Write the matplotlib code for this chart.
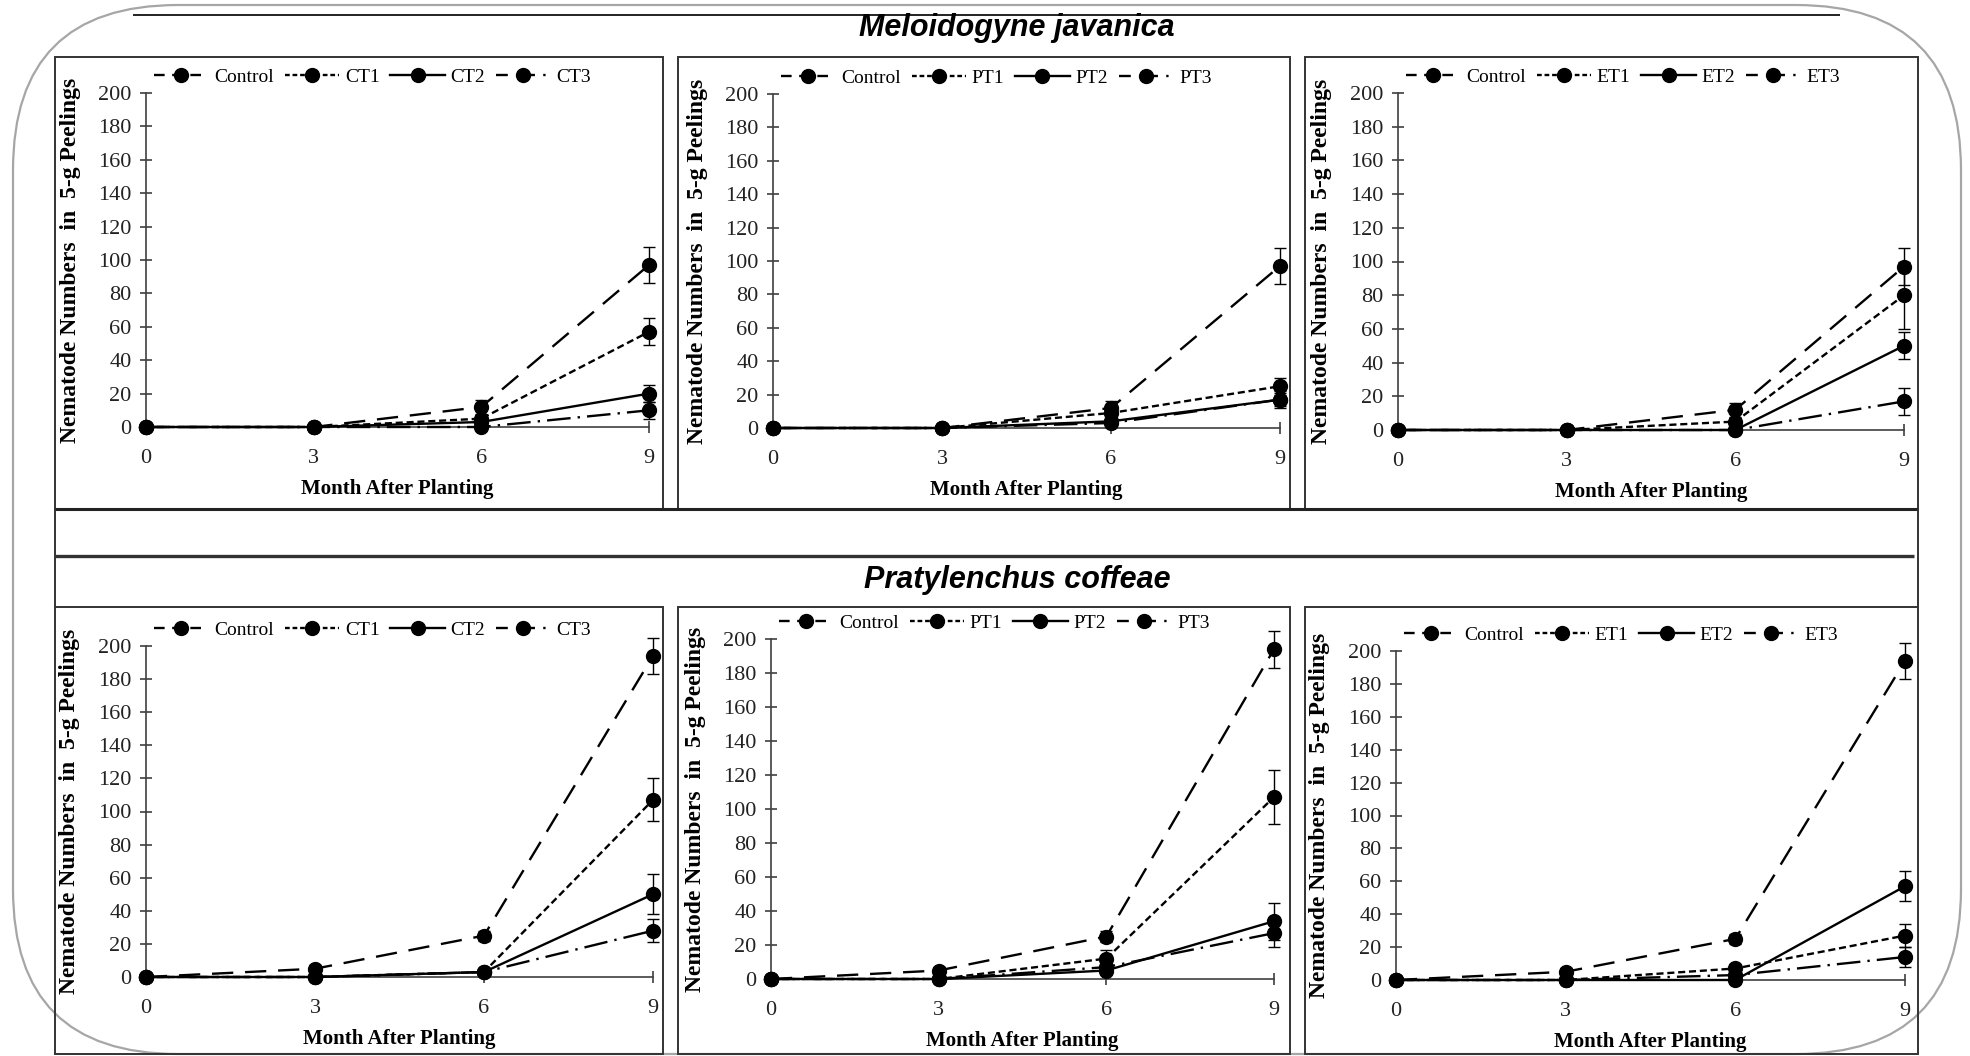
import matplotlib
matplotlib.use("Agg")
import matplotlib.pyplot as plt
from matplotlib.lines import Line2D
from matplotlib.patches import FancyBboxPatch, Rectangle

# ---------------- data ----------------
months = [0, 3, 6, 9]
xticks = [0, 3, 6, 9]
yticks = [0, 20, 40, 60, 80, 100, 120, 140, 160, 180, 200]

# Meloidogyne javanica
mj_control = [0, 0, 12, 97]
mj_control_err = [0, 0, 4, 11]
mj_ct1 = [0, 0, 5, 57]
mj_ct1_err = [0, 0, 2, 8]
mj_ct2 = [0, 0, 3, 20]
mj_ct2_err = [0, 0, 1, 5]
mj_ct3 = [0, 0, 0, 10]
mj_ct3_err = [0, 0, 0, 5]
mj_pt1 = [0, 0, 9, 25]
mj_pt1_err = [0, 0, 3, 5]
mj_pt2 = [0, 0, 4, 17]
mj_pt2_err = [0, 0, 1, 5]
mj_pt3 = [0, 0, 3, 17]
mj_pt3_err = [0, 0, 1, 4]
mj_et1 = [0, 0, 5, 80]
mj_et1_err = [0, 0, 2, 20]
mj_et2 = [0, 0, 0, 50]
mj_et2_err = [0, 0, 0, 8]
mj_et3 = [0, 0, 0, 17]
mj_et3_err = [0, 0, 0, 8]

# Pratylenchus coffeae
pc_control = [0, 5, 25, 194]
pc_control_err = [0, 2, 3, 11]
pc_ct1 = [0, 0, 3, 107]
pc_ct1_err = [0, 0, 1, 13]
pc_ct2 = [0, 0, 3, 50]
pc_ct2_err = [0, 0, 1, 12]
pc_ct3 = [0, 0, 3, 28]
pc_ct3_err = [0, 0, 1, 7]
pc_pt1 = [0, 0, 12, 107]
pc_pt1_err = [0, 0, 5, 16]
pc_pt2 = [0, 0, 5, 34]
pc_pt2_err = [0, 0, 2, 11]
pc_pt3 = [0, 0, 7, 27]
pc_pt3_err = [0, 0, 2, 8]
pc_et1 = [0, 0, 7, 27]
pc_et1_err = [0, 0, 3, 7]
pc_et2 = [0, 0, 0, 57]
pc_et2_err = [0, 0, 0, 9]
pc_et3 = [0, 0, 3, 14]
pc_et3_err = [0, 0, 1, 6]

ct_labels = ["Control", "CT1", "CT2", "CT3"]
pt_labels = ["Control", "PT1", "PT2", "PT3"]
et_labels = ["Control", "ET1", "ET2", "ET3"]

title_top = "Meloidogyne javanica"
title_bottom = "Pratylenchus coffeae"
ylabel = "Nematode Numbers  in  5-g Peelings"
xlabel = "Month After Planting"

# ---------------- styling ----------------
W, H = 1970, 1056
fig = plt.figure(figsize=(W / 100, H / 100), dpi=100)
fig.patch.set_facecolor("white")

SERIF = ["Liberation Serif", "DejaVu Serif"]
NARROW = ["Liberation Sans Narrow", "Liberation Sans", "DejaVu Sans"]

styles = [
    (0, (9, 5)),
    (0, (3, 1.6)),
    "-",
    (0, (10, 3, 1, 3)),
]
legend_styles = [
    (0, (4.5, 3.2)),
    (0, (2.0, 1.2)),
    "-",
    (0, (5, 3.5, 1, 2)),
]


def fx(x):
    return x / W


def fy(y):
    return 1 - y / H


def pline(x0, y0, x1, y1, lw=1.5, color="#333333"):
    fig.add_artist(Line2D([fx(x0), fx(x1)], [fy(y0), fy(y1)], transform=fig.transFigure,
                          color=color, lw=lw, solid_capstyle="butt"))


def prect(x0, y0, x1, y1, lw=1.5, color="#333333"):
    fig.add_artist(Rectangle((fx(x0), fy(y1)), fx(x1) - fx(x0), fy(y0) - fy(y1),
                             transform=fig.transFigure, fill=False, ec=color, lw=lw))


# outer rounded frame
r = 165
fig.add_artist(FancyBboxPatch((13 / 100, (H - 1054) / 100), (1961 - 13) / 100, (1054 - 5) / 100,
                              boxstyle=f"round,pad=0,rounding_size={r/100}",
                              transform=fig.dpi_scale_trans, fill=False, ec="#a6a6a6", lw=1.6))
pline(133, 15, 1840, 15, lw=1.4, color="#222222")

# panel frames
for (x0, x1) in [(55, 663), (678, 1290), (1305, 1918)]:
    prect(x0, 57, x1, 509, lw=1.4)
    prect(x0, 607, x1, 1054, lw=1.4)
pline(55, 509, 1918, 509, lw=2.2, color="#222222")
pline(55, 509, 55, 607, lw=1.4)
pline(1918, 509, 1918, 607, lw=1.4)
pline(55, 556, 1914, 556, lw=2.4, color="#333333")

fig.text(fx(1017), fy(28), title_top, ha="center", va="center", fontsize=22,
         fontweight="bold", fontstyle="italic", family=NARROW)
fig.text(fx(1017), fy(580), title_bottom, ha="center", va="center", fontsize=22,
         fontweight="bold", fontstyle="italic", family=NARROW)

# axes positions in pixels: (x_left, x_right, y_top(200), y_bottom(0))
panels = [
    ((146, 649, 93, 427), [mj_control, mj_ct1, mj_ct2, mj_ct3],
     [mj_control_err, mj_ct1_err, mj_ct2_err, mj_ct3_err], ct_labels),
    ((773, 1280, 94, 428), [mj_control, mj_pt1, mj_pt2, mj_pt3],
     [mj_control_err, mj_pt1_err, mj_pt2_err, mj_pt3_err], pt_labels),
    ((1398, 1904, 93, 430), [mj_control, mj_et1, mj_et2, mj_et3],
     [mj_control_err, mj_et1_err, mj_et2_err, mj_et3_err], et_labels),
    ((146, 653, 646, 977), [pc_control, pc_ct1, pc_ct2, pc_ct3],
     [pc_control_err, pc_ct1_err, pc_ct2_err, pc_ct3_err], ct_labels),
    ((771, 1274, 639, 979), [pc_control, pc_pt1, pc_pt2, pc_pt3],
     [pc_control_err, pc_pt1_err, pc_pt2_err, pc_pt3_err], pt_labels),
    ((1396, 1905, 651, 980), [pc_control, pc_et1, pc_et2, pc_et3],
     [pc_control_err, pc_et1_err, pc_et2_err, pc_et3_err], et_labels),
]

for (xl, xr, yt, yb), series, errs, labels in panels:
    ax = fig.add_axes([fx(xl), fy(yb), fx(xr) - fx(xl), (yb - yt) / H])
    ax.set_facecolor("none")
    for i in [3, 2, 1, 0]:
        ax.errorbar(months, series[i], yerr=errs[i], fmt="none", ecolor="black",
                    elinewidth=1.0, capsize=4.5, capthick=1.0, clip_on=False, zorder=3 + i)
        ax.plot(months, series[i], color="black", lw=1.7, marker="o", markersize=10,
                markerfacecolor="black", markeredgecolor="black",
                clip_on=False, zorder=4 + i, label=labels[i], linestyle=styles[i])
    proxies = [Line2D([], [], color="black", lw=1.7, marker="o", markersize=10,
                      linestyle=legend_styles[i]) for i in range(4)]
    ax.set_xlim(0, 9)
    ax.set_ylim(0, 200)
    ax.set_xticks(xticks)
    ax.set_yticks(yticks)
    ax.set_xticklabels([str(t) for t in xticks], family=SERIF, fontsize=16)
    ax.set_yticklabels([str(t) for t in yticks], family=SERIF, fontsize=16)
    for s in ["top", "right"]:
        ax.spines[s].set_visible(False)
    ax.spines["left"].set_color("#404040")
    ax.spines["bottom"].set_color("#404040")
    ax.spines["left"].set_linewidth(1.2)
    ax.spines["bottom"].set_linewidth(1.2)
    ax.tick_params(axis="both", direction="inout", length=9, width=1.2, color="#404040",
                   labelcolor="#222222")
    ax.tick_params(axis="y", pad=6)
    ax.tick_params(axis="x", pad=11)
    wpx = xr - xl
    hpx = yb - yt
    ax.set_ylabel(ylabel, family=SERIF, fontsize=17, fontweight="bold", va="center")
    ax.yaxis.set_label_coords(-76 / wpx, 0.5)
    ax.set_xlabel(xlabel, family=SERIF, fontsize=15, fontweight="bold", va="center")
    ax.xaxis.set_label_coords(0.5, -62 / hpx)
    ax.legend(handles=proxies, labels=labels, ncol=4, loc="center left",
              bbox_to_anchor=(8 / wpx, 1 + 16 / hpx), frameon=False, borderpad=0,
              borderaxespad=0, handlelength=2.8, handletextpad=0.3,
              columnspacing=0.55, prop=dict(family=SERIF, size=14))

fig.savefig("out.png", dpi=100, facecolor="white")
